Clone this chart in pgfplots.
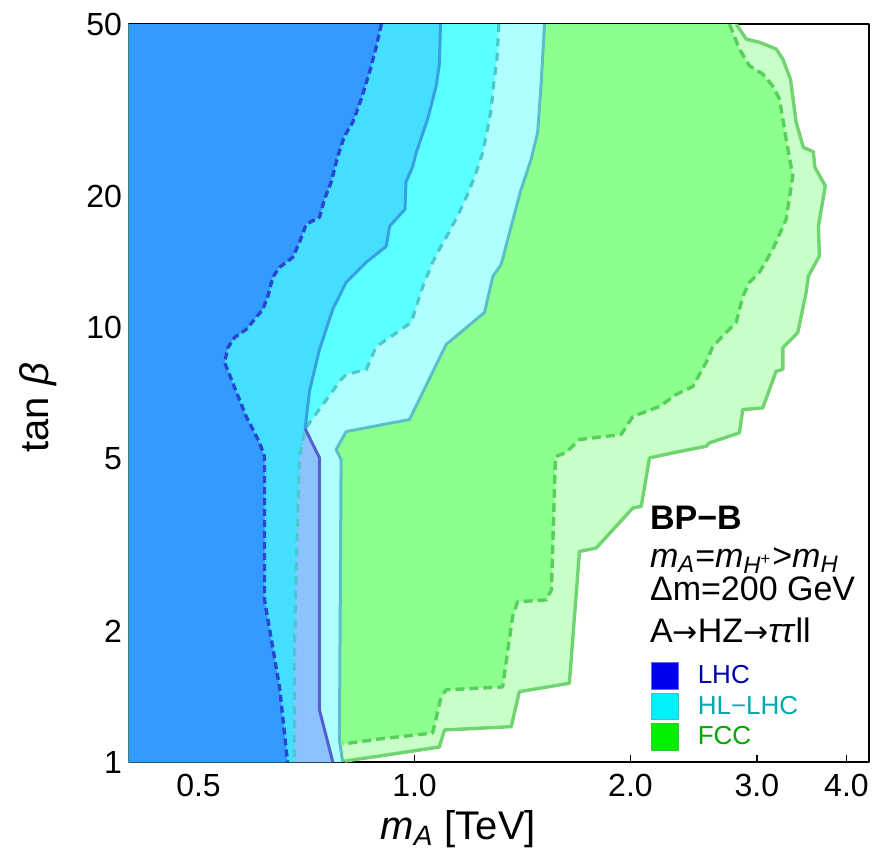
\documentclass[border=0pt]{standalone}
\usepackage{fontspec}
\setmainfont{Liberation Sans}
\newfontfamily\arrowfont{DejaVu Sans}
\usepackage{pgfplots}
\usepackage{pgfplotstable}
\pgfplotsset{compat=1.18}

% region fills
\definecolor{fccsol}{RGB}{200,255,200}
\definecolor{fccdsh}{RGB}{140,255,140}
\definecolor{hlsol}{RGB}{176,255,255}
\definecolor{hldsh}{RGB}{92,255,255}
\definecolor{lhcsol}{RGB}{69,222,255}
\definecolor{lhcstrip}{RGB}{140,194,255}
\definecolor{lhcdsh}{RGB}{51,155,255}
% boundary lines
\definecolor{fccsolL}{RGB}{112,212,112}
\definecolor{fccdshL}{RGB}{85,208,90}
\definecolor{hlsolL}{RGB}{90,192,200}
\definecolor{hldshL}{RGB}{75,200,205}
\definecolor{lhcsolL}{RGB}{55,160,225}
\definecolor{lhcsolL2}{RGB}{85,95,205}
\definecolor{lhcdshL}{RGB}{40,70,210}
% legend
\definecolor{lhcsq}{RGB}{0,0,240}
\definecolor{hlsq}{RGB}{0,240,250}
\definecolor{fccsq}{RGB}{0,240,0}
\definecolor{lhctx}{RGB}{0,0,170}
\definecolor{hltx}{RGB}{0,170,175}
\definecolor{fcctx}{RGB}{0,165,0}

\newcommand{\arr}{{\arrowfont\fontsize{15}{18}\selectfont →}}

% each table: corner, boundary curve (top to bottom), corner
\pgfplotstableread{
x y
0.4 50
0.899 50
0.8844 44.26
0.8656 38.76
0.8428 33.58
0.8204 29.72
0.7990 27.60
0.7818 24.81
0.7653 21.61
0.7491 19.75
0.7372 17.95
0.7065 17.30
0.6914 15.72
0.6767 14.52
0.6484 13.77
0.6346 13.05
0.6245 11.80
0.6146 11.02
0.5826 9.905
0.5613 9.49
0.5494 9.00
0.5436 8.32
0.5826 6.243
0.6081 5.438
0.6180 5.047
0.6180 2.362
0.6484 1.489
0.6653 1
0.4 1
}\lhcdashed

\pgfplotstableread{
x y
0.4 50
1.087 50
1.083 40.44
1.072 35.97
1.043 30.20
1.006 25.35
0.9945 23.53
0.9731 21.61
0.9700 18.73
0.9231 17.12
0.9133 15.39
0.8565 14.14
0.8030 12.72
0.7694 11.02
0.7372 8.91
0.7138 7.13
0.704 5.85
0.7372 5.02
0.7372 1.318
0.7694 1
0.4 1
}\lhcsolid

\pgfplotstableread{
x y
0.4 50
1.311 50
1.303 41.52
1.289 36.36
1.279 31.85
1.264 28.64
1.245 25.35
1.219 22.79
1.189 20.49
1.155 18.43
1.119 16.67
1.083 15.15
1.060 14.14
1.027 12.45
0.9895 10.28
0.9280 9.544
0.8844 9.05
0.8565 8.01
0.8030 7.80
0.7903 7.597
0.704 5.85
0.6914 5.047
0.6876 3.750
0.6803 1.841
0.6803 1
0.4 1
}\hldashed

\pgfplotstableread{
x y
0.4 50
1.518 50
1.502 36.75
1.485 28.18
1.454 24.42
1.408 20.83
1.364 17.12
1.321 13.99
1.286 13.12
1.252 10.84
1.107 9.149
0.9840 6.143
0.8030 5.765
0.7777 5.240
0.7903 4.968
0.7860 1.124
0.7942 1
0.4 1
}\hlsolid

\pgfplotstableread{
x y
0.4 50
2.748 50
2.837 43.79
2.930 40.07
3.058 38.35
3.158 35.97
3.227 33.58
3.296 27.16
3.367 22.35
3.296 17.76
3.158 15.15
3.026 13.41
2.930 12.72
2.868 11.80
2.808 10.28
2.719 9.748
2.604 9.05
2.550 8.32
2.442 7.318
2.316 7.015
2.195 6.582
2.015 6.243
1.941 5.674
1.698 5.525
1.627 5.157
1.572 5.047
1.552 2.492
1.527 2.362
1.392 2.338
1.370 2.160
1.327 1.489
1.107 1.466
1.089 1.412
1.060 1.166
0.8937 1.130
0.7942 1.100
0.4 1
}\fccdashed

\pgfplotstableread{
x y
0.4 50
2.808 50
2.899 46.17
3.026 45.38
3.192 43.79
3.261 41.52
3.342 37.34
3.403 29.72
3.484 25.98
3.597 25.41
3.614 23.40
3.738 21.20
3.656 17.14
3.667 14.62
3.540 13.14
3.514 12.03
3.421 9.73
3.261 8.99
3.261 8.01
3.192 7.94
3.058 6.537
2.868 6.477
2.837 5.725
2.577 5.429
2.550 5.332
2.291 5.148
2.126 5.013
2.070 3.877
2.015 3.844
1.792 3.109
1.698 3.053
1.644 1.518
1.400 1.452
1.364 1.206
1.101 1.185
1.083 1.083
0.8937 1.032
0.7990 1.005
0.4 1
}\fccsolid

\begin{document}
\begin{tikzpicture}
\begin{axis}[
    width=370pt, height=369pt, scale only axis,
    xmode=log, ymode=log,
    xmin=0.4, xmax=4.3, ymin=1, ymax=50,
    xtick={0.5,1,2,3,4}, xticklabels={0.5,1.0,2.0,3.0,4.0},
    ytick={1,2,5,10,20,50}, yticklabels={1,2,5,10,20,50},
    minor xtick={}, minor ytick={},
    tick align=inside, xtick pos=bottom, ytick pos=left,
    major tick length=3.5pt,
    every tick/.style={black, line width=0.8pt},
    axis line style={black, line width=1pt},
    tick label style={font=\fontsize{16}{19}\selectfont},
    xticklabel style={yshift=-2.5pt},
    label style={font=\fontsize{20}{24}\selectfont},
    xlabel={\textit{m}\textsubscript{\textit{A}} [TeV]},
    ylabel={tan \textit{β}},
    xlabel style={at={(ticklabel cs:0.445,0pt)}},
    ylabel style={at={(ticklabel cs:0.48,8pt)}},
    line join=round,
    legend image code/.code={\draw[#1] (0pt,-6.6pt) rectangle (13.2pt,6.6pt);},
    legend style={at={(axis description cs:0.7054,0.1355)}, anchor=north west,
        draw=none, fill=none, inner sep=0pt, row sep=1.5pt, column sep=9.5pt,
        nodes={inner sep=0pt}, font=\fontsize{13}{15}\selectfont},
    legend cell align=left,
]
% filled regions, outermost first
\addplot[fill=fccsol, draw=none, forget plot] table {\fccsolid};
\addplot[fill=fccdsh, draw=none, forget plot] table {\fccdashed};
\addplot[fill=hlsol, draw=none, forget plot] table {\hlsolid};
\addplot[fill=hldsh, draw=none, forget plot] table {\hldashed};
\addplot[fill=lhcsol, draw=none, forget plot] table {\lhcsolid};
% LHC solid but outside HL-LHC dashed
\addplot[fill=lhcstrip, draw=none, forget plot] coordinates {
    (0.6803,1) (0.6803,1.841) (0.6876,3.750) (0.6914,5.047) (0.704,5.85)
    (0.7372,5.02) (0.7372,1.318) (0.7694,1)};
\addplot[fill=lhcdsh, draw=none, forget plot] table {\lhcdashed};

% boundaries
\addplot[fccsolL, line width=1.7pt, forget plot,
    skip coords between index={0}{1}, skip coords between index={38}{39}] table {\fccsolid};
\addplot[fccdshL, line width=1.7pt, dash pattern=on 4.5pt off 2.5pt, forget plot,
    skip coords between index={0}{1}, skip coords between index={36}{37}] table {\fccdashed};
\addplot[hlsolL, line width=1.5pt, forget plot,
    skip coords between index={0}{1}, skip coords between index={17}{18}] table {\hlsolid};
\addplot[hldshL, line width=1.6pt, dash pattern=on 4pt off 3.2pt, forget plot,
    skip coords between index={0}{1}, skip coords between index={25}{26}] table {\hldashed};
\addplot[lhcsolL, line width=1.5pt, forget plot,
    skip coords between index={0}{1}, skip coords between index={17}{21}] table {\lhcsolid};
\addplot[lhcsolL2, line width=1.5pt, forget plot,
    skip coords between index={0}{16}, skip coords between index={20}{21}] table {\lhcsolid};
\addplot[lhcdshL, line width=1.7pt, dash pattern=on 3.5pt off 2pt, forget plot,
    skip coords between index={0}{1}, skip coords between index={28}{29}] table {\lhcdashed};

% legend
\addlegendimage{fill=lhcsq, draw=lhcsq!60!white, line width=0.5pt}
\addlegendentry{\textcolor{lhctx}{LHC}}
\addlegendimage{fill=hlsq, draw=hlsq!60!gray, line width=0.5pt}
\addlegendentry{\textcolor{hltx}{HL−LHC}}
\addlegendimage{fill=fccsq, draw=fccsq!60!gray, line width=0.5pt}
\addlegendentry{\textcolor{fcctx}{FCC}}

% benchmark text
\node[anchor=base west, font=\bfseries\fontsize{17}{20}\selectfont]
    at (axis description cs:0.6946,0.3157) {BP−B};
\node[anchor=base west, font=\fontsize{17}{20}\selectfont, inner ysep=1pt]
    at (axis description cs:0.6946,0.2642)
    {\textit{m}\textsubscript{\textit{A}}=\textit{m}\textsubscript{\textit{H}\textsuperscript{+}}>\textit{m}\textsubscript{\textit{H}}};
\node[anchor=base west, font=\fontsize{17}{20}\selectfont, inner ysep=1pt]
    at (axis description cs:0.6946,0.2195) {Δm=200 GeV};
\node[anchor=base west, font=\fontsize{17}{20}\selectfont]
    at (axis description cs:0.6946,0.1626) {A\arr HZ\arr\textit{ττ}ll};

\coordinate (bbsw) at (rel axis cs:0,0);
\coordinate (bbne) at (rel axis cs:1,1);
\end{axis}
\path ([shift={(-64.5pt,-45pt)}]bbsw) rectangle ([shift={(7pt,12pt)}]bbne);
\end{tikzpicture}
\end{document}
